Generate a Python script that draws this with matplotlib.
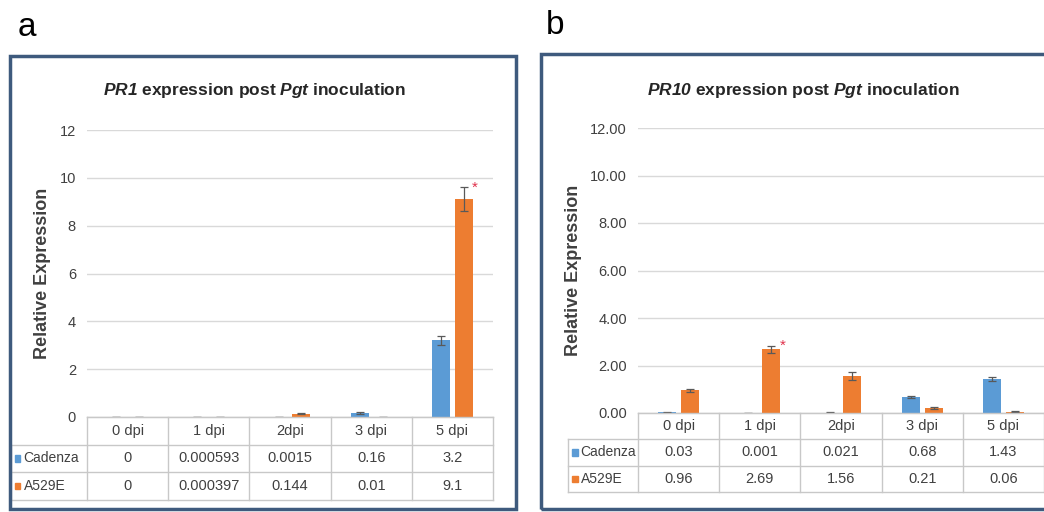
import matplotlib
matplotlib.use("Agg")
import matplotlib.pyplot as plt
from matplotlib.patches import Rectangle
import numpy as np

plt.rcParams['font.family'] = ['Liberation Sans', 'DejaVu Sans']
plt.rcParams['mathtext.fontset'] = 'custom'
plt.rcParams['mathtext.it'] = 'Liberation Sans:italic:bold'
plt.rcParams['mathtext.rm'] = 'Liberation Sans:italic:bold'

W, H = 1044, 512

days = ['0 dpi', '1 dpi', '2dpi', '3 dpi', '5 dpi']
lines = ['Cadenza', 'A529E']

# PR1 relative expression and error bars
pr1_cadenza = [0, 0.000593, 0.0015, 0.16, 3.2]
pr1_a529e = [0, 0.000397, 0.144, 0.01, 9.1]
pr1_cadenza_err = [0, 0.0003, 0.001, 0.03, 0.18]
pr1_a529e_err = [0, 0.0002, 0.03, 0.005, 0.5]
pr1_cadenza_txt = ['0', '0.000593', '0.0015', '0.16', '3.2']
pr1_a529e_txt = ['0', '0.000397', '0.144', '0.01', '9.1']

# PR10 relative expression and error bars
pr10_cadenza = [0.03, 0.001, 0.021, 0.68, 1.43]
pr10_a529e = [0.96, 2.69, 1.56, 0.21, 0.06]
pr10_cadenza_err = [0.01, 0.001, 0.01, 0.05, 0.07]
pr10_a529e_err = [0.06, 0.15, 0.15, 0.04, 0.02]
pr10_cadenza_txt = ['0.03', '0.001', '0.021', '0.68', '1.43']
pr10_a529e_txt = ['0.96', '2.69', '1.56', '0.21', '0.06']

blue = '#5b9bd5'
orange = '#ed7d31'
grid_c = '#d9d9d9'
table_c = '#c8c8c8'
frame_c = '#3e5a7d'
text_c = '#404040'


def box(x0, y0, x1, y1):
    """pixel box -> figure fraction [left, bottom, width, height]"""
    return [x0 / W, 1 - y1 / H, (x1 - x0) / W, (y1 - y0) / H]


def panel(fig, chart_px, table_px, label_w, cad, a5, cad_err, a5_err,
          cad_txt, a5_txt, fmt, star_idx, title, title_x, ylab_x):
    x0, y0, x1, y1 = chart_px
    ax = fig.add_axes(box(x0, y0, x1, y1))
    x = np.arange(len(days))
    bw = 0.22
    off = 0.14
    ek = dict(ecolor='#595959', elinewidth=0.9, capsize=3, capthick=0.9)
    ax.bar(x - off, cad, bw, color=blue, yerr=cad_err, error_kw=ek, zorder=3)
    ax.bar(x + off, a5, bw, color=orange, yerr=a5_err, error_kw=ek, zorder=3)
    ax.set_xlim(-0.5, 4.5)
    ax.set_ylim(0, 12)
    ax.set_yticks(np.arange(0, 13, 2))
    ax.set_yticklabels([fmt.format(v) for v in np.arange(0, 13, 2)])
    ax.yaxis.grid(True, color=grid_c, lw=1)
    ax.set_axisbelow(True)
    ax.set_xticks([])
    for s in ['top', 'right', 'left']:
        ax.spines[s].set_visible(False)
    ax.spines['bottom'].set_color(table_c)
    ax.tick_params(axis='y', length=0, pad=8, labelsize=10.5, labelcolor=text_c)
    ax.set_ylabel('Relative Expression', fontsize=13, fontweight='bold',
                  color=text_c)
    ax.yaxis.set_label_coords((ylab_x - x0) / (x1 - x0), 0.5)

    # significance star above the marked orange bar
    i = star_idx
    ax.text(i + off + 0.1, a5[i] + a5_err[i], '*', color='#e0304a',
            fontsize=11, ha='left', va='center')

    # data table under the chart
    tx0, ty0, tx1, ty1 = table_px
    tb = fig.add_axes(box(tx0, ty0, tx1, ty1))
    tb.set_xlim(-0.5, 4.5)
    tb.set_ylim(3, 0)
    tb.axis('off')
    colw = (tx1 - tx0) / 5.0
    left = -0.5 - label_w / colw
    kw = dict(color=table_c, lw=1, clip_on=False)
    for r in [1, 2, 3]:
        tb.plot([left, 4.5], [r, r], **kw)
    tb.plot([-0.5, 4.5], [0, 0], **kw)
    for c in np.arange(-0.5, 4.6, 1.0):
        tb.plot([c, c], [0, 3], **kw)
    tb.plot([left, left], [1, 3], **kw)
    for j, d in enumerate(days):
        tb.text(j, 0.5, d, ha='center', va='center', fontsize=10.5, color=text_c)
        tb.text(j, 1.5, cad_txt[j], ha='center', va='center', fontsize=10.5, color=text_c)
        tb.text(j, 2.5, a5_txt[j], ha='center', va='center', fontsize=10.5, color=text_c)
    ks = 5.5 / colw
    for r, (name, col) in enumerate(zip(lines, [blue, orange])):
        kx = left + 4 / colw
        tb.add_patch(Rectangle((kx, 1.5 + r - 0.12), ks, 0.24, color=col, clip_on=False))
        tb.text(kx + ks + 3 / colw, 1.5 + r, name, ha='left', va='center',
                fontsize=10, color=text_c, clip_on=False)

    fig.text(title_x / W, 1 - 90 / H, title, ha='center', va='center',
             fontsize=12.5, fontweight='bold', color='#262626')
    return ax


fig = plt.figure(figsize=(W / 100, H / 100), dpi=100)
fig.patch.set_facecolor('white')

# outer frames
fig.patches.append(Rectangle((10 / W, 1 - 509 / H), 506 / W, 453 / H,
                             transform=fig.transFigure, fill=False,
                             edgecolor=frame_c, lw=2.5))
fig.patches.append(Rectangle((541 / W, 1 - 509 / H), 520 / W, 455 / H,
                             transform=fig.transFigure, fill=False,
                             edgecolor=frame_c, lw=2.5))

panel(fig, (87, 130, 493, 417), (87, 417, 493, 500), 76,
      pr1_cadenza, pr1_a529e, pr1_cadenza_err, pr1_a529e_err,
      pr1_cadenza_txt, pr1_a529e_txt, '{:.0f}', 4,
      r'$\it{PR1}$ expression post $\it{Pgt}$ inoculation', 255, 51)
panel(fig, (638, 128, 1044, 413), (638, 413, 1044, 492), 70,
      pr10_cadenza, pr10_a529e, pr10_cadenza_err, pr10_a529e_err,
      pr10_cadenza_txt, pr10_a529e_txt, '{:.2f}', 1,
      r'$\it{PR10}$ expression post $\it{Pgt}$ inoculation', 803, 582)

fig.text(18 / W, 1 - 28 / H, 'a', fontsize=24, ha='left', va='center')
fig.text(546 / W, 1 - 26 / H, 'b', fontsize=24, ha='left', va='center')

fig.savefig('out.png', dpi=100, facecolor='white')
